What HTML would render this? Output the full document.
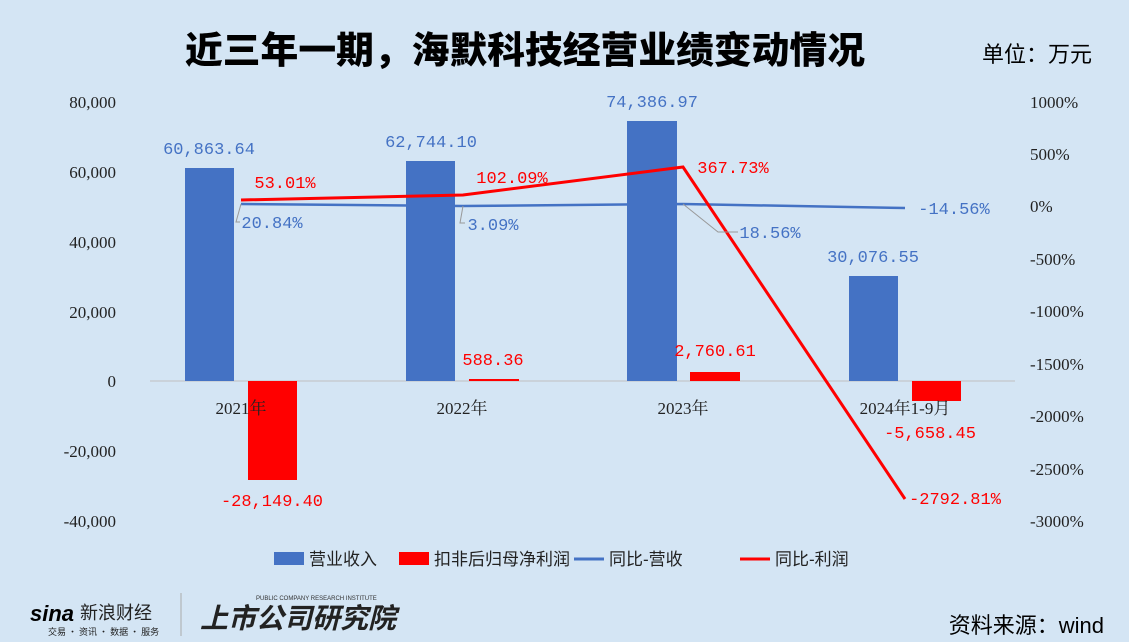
<!DOCTYPE html>
<html><head><meta charset="utf-8"><style>
body{margin:0;width:1129px;height:642px;background:#d4e5f4;overflow:hidden;font-family:"Liberation Sans","Noto Sans CJK SC",sans-serif}
</style></head><body>
<svg width="1129" height="642" xmlns="http://www.w3.org/2000/svg" style="position:absolute;left:0;top:0">
<rect width="1129" height="642" fill="#d4e5f4"/>
<text x="525" y="63" text-anchor="middle" font-size="37" font-weight="900" fill="#000" font-family="Noto Sans CJK SC,sans-serif" textLength="680" lengthAdjust="spacingAndGlyphs">近三年一期，海默科技经营业绩变动情况</text>
<text x="1092" y="62" text-anchor="end" font-size="22" fill="#000" font-family="Liberation Sans,Noto Sans CJK SC,sans-serif">单位：万元</text>
<g font-family="Liberation Serif,Noto Serif CJK SC,serif" font-size="17" fill="#222" text-anchor="end">
<text x="116" y="108">80,000</text><text x="116" y="178">60,000</text><text x="116" y="248">40,000</text><text x="116" y="318">20,000</text><text x="116" y="387">0</text><text x="116" y="457">-20,000</text><text x="116" y="527">-40,000</text>
</g>
<g font-family="Liberation Serif,serif" font-size="17" fill="#222" text-anchor="start">
<text x="1030" y="108">1000%</text><text x="1030" y="160">500%</text><text x="1030" y="212">0%</text><text x="1030" y="265">-500%</text><text x="1030" y="317">-1000%</text><text x="1030" y="370">-1500%</text><text x="1030" y="422">-2000%</text><text x="1030" y="475">-2500%</text><text x="1030" y="527">-3000%</text>
</g>
<line x1="150" y1="381" x2="1015" y2="381" stroke="#bfbfbf"/>
<g fill="#4472c4">
<rect x="185" y="168" width="49" height="213"/><rect x="406" y="161" width="49" height="220"/><rect x="627" y="121" width="50" height="260"/><rect x="849" y="276" width="49" height="105"/>
</g>
<g fill="#ff0000">
<rect x="248" y="381" width="49" height="99"/><rect x="469" y="379" width="50" height="2"/><rect x="690" y="372" width="50" height="9"/><rect x="912" y="381" width="49" height="20"/>
</g>
<g font-family="Liberation Serif,Noto Serif CJK SC,serif" font-size="17" fill="#222" text-anchor="middle">
<text x="241" y="414">2021年</text><text x="462" y="414">2022年</text><text x="683" y="414">2023年</text><text x="905" y="414">2024年1-9月</text>
</g>
<polyline points="241,204 463,206 683,204 905,208" fill="none" stroke="#4472c4" stroke-width="2.5"/>
<polyline points="241,200 463,195 683,167 905,499" fill="none" stroke="#ff0000" stroke-width="3"/>
<g stroke="#999" fill="none"><polyline points="241,204 236,222 240,222"/><polyline points="463,206 460,223 465,223"/><polyline points="683,204 718,232 738,232"/></g>
<g font-family="Liberation Mono,monospace" font-size="17" fill="#4472c4" text-anchor="middle">
<text x="209" y="154">60,863.64</text><text x="431" y="147">62,744.10</text><text x="652" y="107">74,386.97</text><text x="873" y="262">30,076.55</text>
<text x="272" y="228">20.84%</text><text x="493" y="230">3.09%</text><text x="770" y="238">18.56%</text><text x="954" y="214">-14.56%</text>
</g>
<g font-family="Liberation Mono,monospace" font-size="17" fill="#ff0000" text-anchor="middle">
<text x="285" y="188">53.01%</text><text x="512" y="183">102.09%</text><text x="733" y="173">367.73%</text>
<text x="493" y="365">588.36</text><text x="715" y="356">2,760.61</text><text x="272" y="506">-28,149.40</text><text x="930" y="438">-5,658.45</text><text x="955" y="504">-2792.81%</text>
</g>
<g font-size="17" fill="#222" font-family="Liberation Sans,Noto Sans CJK SC,sans-serif">
<rect x="274" y="552" width="30" height="13" fill="#4472c4"/><text x="309" y="565">营业收入</text>
<rect x="399" y="552" width="30" height="13" fill="#ff0000"/><text x="434" y="565">扣非后归母净利润</text>
<line x1="574" y1="559" x2="604" y2="559" stroke="#4472c4" stroke-width="3"/><text x="609" y="565">同比-营收</text>
<line x1="740" y1="559" x2="770" y2="559" stroke="#ff0000" stroke-width="3"/><text x="775" y="565">同比-利润</text>
</g>
<text x="30" y="621" font-size="22" font-weight="bold" font-style="italic" fill="#000">sina</text>
<text x="80" y="619" font-size="18" fill="#222" font-family="Liberation Sans,Noto Sans CJK SC,sans-serif">新浪财经</text>
<text x="48" y="635" font-size="9" fill="#222" font-family="Noto Sans CJK SC,sans-serif">交易 · 资讯 · 数据 · 服务</text>
<line x1="181" y1="593" x2="181" y2="636" stroke="#aaa"/>
<text x="200" y="628" font-size="28" font-weight="bold" font-style="italic" fill="#222" font-family="Noto Sans CJK SC,sans-serif">上市公司研究院</text>
<text x="256" y="600" font-size="6" fill="#333">PUBLIC COMPANY RESEARCH INSTITUTE</text>
<text x="1104" y="633" text-anchor="end" font-size="22" fill="#000" font-family="Liberation Sans,Noto Sans CJK SC,sans-serif">资料来源：wind</text>
</svg>
</body></html>
